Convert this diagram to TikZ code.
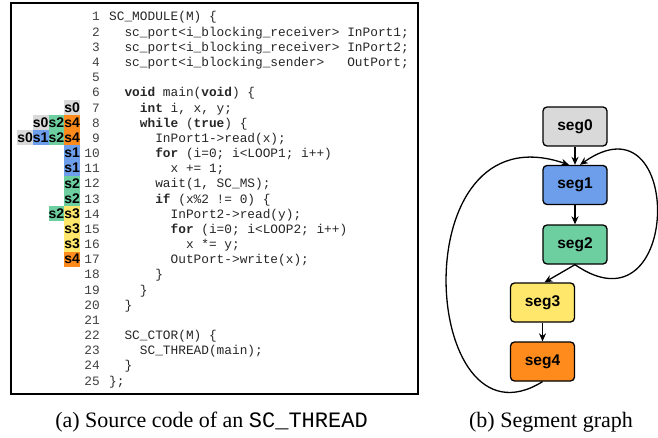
\documentclass[tikz,border=0pt]{standalone}
\usepackage{fontspec}
\setmainfont{Liberation Serif}
\setsansfont{Liberation Sans}
\setmonofont{Liberation Mono}
\usetikzlibrary{arrows.meta}

\definecolor{seg0}{HTML}{D9D9D9}
\definecolor{seg1}{HTML}{6D9EEB}
\definecolor{seg2}{HTML}{6DCFA0}
\definecolor{seg3}{HTML}{FFE76B}
\definecolor{seg4}{HTML}{FF8B1C}

\tikzset{
  code/.style={anchor=base west, inner sep=0pt, text=black!85,
    font=\ttfamily\fontsize{12.8}{15}\selectfont},
  lineno/.style={anchor=base east, inner sep=0pt, text=black!75,
    font=\ttfamily\fontsize{12.8}{15}\selectfont},
  segcell/.style={fill=seg#1, inner sep=0pt, minimum width=15.7pt,
    minimum height=15.2pt, font=\sffamily\bfseries\fontsize{14}{14}\selectfont},
  segbox/.style={draw, fill=seg#1, line width=1.3pt, rounded corners=4pt,
    minimum width=64pt, minimum height=39pt,
    font=\sffamily\bfseries\fontsize{15.5}{16}\selectfont},
  flow/.style={->, line width=1.3pt},
  caption/.style={anchor=base, inner sep=0pt,
    font=\fontsize{22}{24}\selectfont}
}

\begin{document}
\begin{tikzpicture}[x=1pt, y=1pt, >={Stealth[length=8pt,width=7pt]}]
\useasboundingbox (0,0) rectangle (658,437);

% listing frame
\draw[line width=1.2pt] (11,43) rectangle (418,434);

\foreach \n in {1,...,25}
  \node [lineno] (num-\n) at (100,{416-15.17*(\n-1)}) {\n};

\foreach \n/\d/\src in {
    1/0/{SC\_MODULE(M) \{},
    2/1/{sc\_port<i\_blocking\_receiver> InPort1;},
    3/1/{sc\_port<i\_blocking\_receiver> InPort2;},
    4/1/{sc\_port<i\_blocking\_sender>~~~OutPort;},
    6/1/{\textbf{void} main(\textbf{void}) \{},
    7/2/{\textbf{int} i, x, y;},
    8/2/{\textbf{while} (\textbf{true}) \{},
    9/3/{InPort1->read(x);},
    10/3/{\textbf{for} (i=0; i<LOOP1; i++)},
    11/4/{x += 1;},
    12/3/{wait(1, SC\_MS);},
    13/3/{\textbf{if} (x\%2 != 0) \{},
    14/4/{InPort2->read(y);},
    15/4/{\textbf{for} (i=0; i<LOOP2; i++)},
    16/5/{x *= y;},
    17/4/{OutPort->write(x);},
    18/3/{\}},
    19/2/{\}},
    20/1/{\}},
    22/1/{SC\_CTOR(M) \{},
    23/2/{SC\_THREAD(main);},
    24/1/{\}},
    25/0/{\};}}
  \node [code] (code-\n) at ({109+15.36*\d},{416-15.17*(\n-1)}) {\src};

% segment tags, column counted from the right
\foreach \n/\c/\s in {7/1/0, 8/3/0, 8/2/2, 8/1/4, 9/4/0, 9/3/1, 9/2/2, 9/1/4,
    10/1/1, 11/1/1, 12/1/2, 13/1/2, 14/2/2, 14/1/3, 15/1/3, 16/1/3, 17/1/4}
  \node [segcell=\s] (cell-\n-\c) at ({80-15.7*(\c-0.5)},{420.5-15.17*(\n-1)}) {s\s};

% segment graph
\node [segbox=0] (seg0) at (575,310.5) {seg0};
\node [segbox=1] (seg1) at (575,252) {seg1};
\node [segbox=2] (seg2) at (575,192.5) {seg2};
\node [segbox=3] (seg3) at (542.5,134.5) {seg3};
\node [segbox=4] (seg4) at (542.5,75.5) {seg4};

\draw [flow] (seg0) -- (seg1);
\draw [flow] (seg1) -- (seg2);
\draw [flow] (seg2.south) -- ([xshift=2pt]seg3.north);
\draw [flow] (seg3) -- (seg4);
\draw [flow] (seg2.south) .. controls +(107,-74) and +(105,74) .. ([xshift=5pt]seg1.north);
\draw [flow] (seg4.south) .. controls +(-122,-76) and +(-169,58) .. ([xshift=-6pt]seg1.north);

\node [caption] (cap-a) at (211.5,10) {(a) Source code of an \texttt{SC\_THREAD}};
\node [caption] (cap-b) at (551,10) {(b) Segment graph};

\end{tikzpicture}
\end{document}
